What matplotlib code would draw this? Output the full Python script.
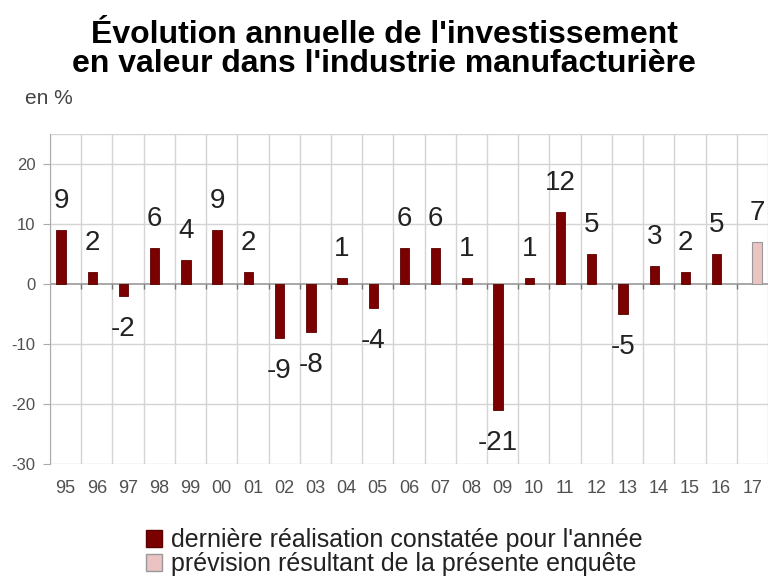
import matplotlib
matplotlib.use("Agg")
import matplotlib.pyplot as plt
import numpy as np
from matplotlib.patches import Patch

plt.rcParams['font.family'] = ['Liberation Sans', 'DejaVu Sans']

years = ["95", "96", "97", "98", "99", "00", "01", "02", "03", "04", "05", "06",
         "07", "08", "09", "10", "11", "12", "13", "14", "15", "16", "17"]
realise = [9, 2, -2, 6, 4, 9, 2, -9, -8, 1, -4, 6, 6, 1, -21, 1, 12, 5, -5, 3, 2, 5, None]
prevision = [None] * 22 + [7]

title = "Évolution annuelle de l'investissement\nen valeur dans l'industrie manufacturière"
legend_labels = ["dernière réalisation constatée pour l'année",
                 "prévision résultant de la présente enquête"]

dark = "#7b0000"
pink = "#ebc3c3"
grid_c = "#d4d4d4"
tick_c = "#505050"

fig = plt.figure(figsize=(7.68, 5.76), dpi=100)
W, H = 768, 576
ax = fig.add_axes([50 / W, 1 - 464 / H, 718 / W, (464 - 134) / H])

x = np.arange(len(years))
bw = 0.3
off = 0.145

for i, v in enumerate(realise):
    if v is None:
        continue
    ax.bar(x[i] - off, v, width=bw, color=dark, edgecolor="#5a0000", linewidth=0.6, zorder=3)
    if v >= 0:
        ax.text(x[i] - off, v + 2.6, str(v), ha="center", va="bottom", fontsize=20, color="#222222", zorder=4)
    else:
        ax.text(x[i] - off, v - 3.3, str(v), ha="center", va="top", fontsize=20, color="#222222", zorder=4)

for i, v in enumerate(prevision):
    if v is None:
        continue
    ax.bar(x[i] + off, v, width=bw, color=pink, edgecolor="#999999", linewidth=0.8, zorder=3)
    ax.text(x[i] + off, v + 2.6, str(v), ha="center", va="bottom", fontsize=20, color="#222222", zorder=4)

ax.set_xlim(-0.5, len(years) - 0.5)
ax.set_ylim(-30, 25)

# grid
for b in np.arange(len(years) + 1) - 0.5:
    ax.axvline(b, color=grid_c, lw=1.0, zorder=1)
for yv in [-30, -20, -10, 10, 20, 25]:
    ax.axhline(yv, color=grid_c, lw=1.0, zorder=1)
ax.axhline(0, color="#999999", lw=1.2, zorder=2)
ax.vlines(np.arange(1, len(years)) - 0.5, -0.9, 0, color="#777777", lw=1.0, zorder=2)

for s in ["top", "right", "bottom"]:
    ax.spines[s].set_visible(False)
ax.spines["left"].set_color("#aaaaaa")

ax.set_yticks([-30, -20, -10, 0, 10, 20])
ax.set_yticklabels(["-30", "-20", "-10", "0", "10", "20"])
ax.tick_params(axis="y", length=5, color="#aaaaaa", labelcolor=tick_c, labelsize=12, pad=5.5)
ax.set_xticks(x)
ax.set_xticklabels(years)
ax.tick_params(axis="x", length=0, labelcolor=tick_c, labelsize=13, pad=11.5)

fig.text(25 / W, 1 - 99 / H, "en %", fontsize=15, color="#444444", ha="left", va="center")

fig.text(0.5, 1 - 72 / H, title, fontsize=23, fontweight="bold", ha="center",
         va="baseline", linespacing=0.95, color="#000000")

handles = [Patch(facecolor=dark, edgecolor="#5a0000"),
           Patch(facecolor=pink, edgecolor="#999999")]
fig.legend(handles, legend_labels, loc="center", bbox_to_anchor=(0.513, 1 - 552 / H),
           frameon=False, fontsize=18, handlelength=0.65, handleheight=0.65,
           handletextpad=0.35, labelspacing=0.0, labelcolor="#222222",
           borderpad=0, borderaxespad=0)

fig.savefig("out.png", dpi=100)
